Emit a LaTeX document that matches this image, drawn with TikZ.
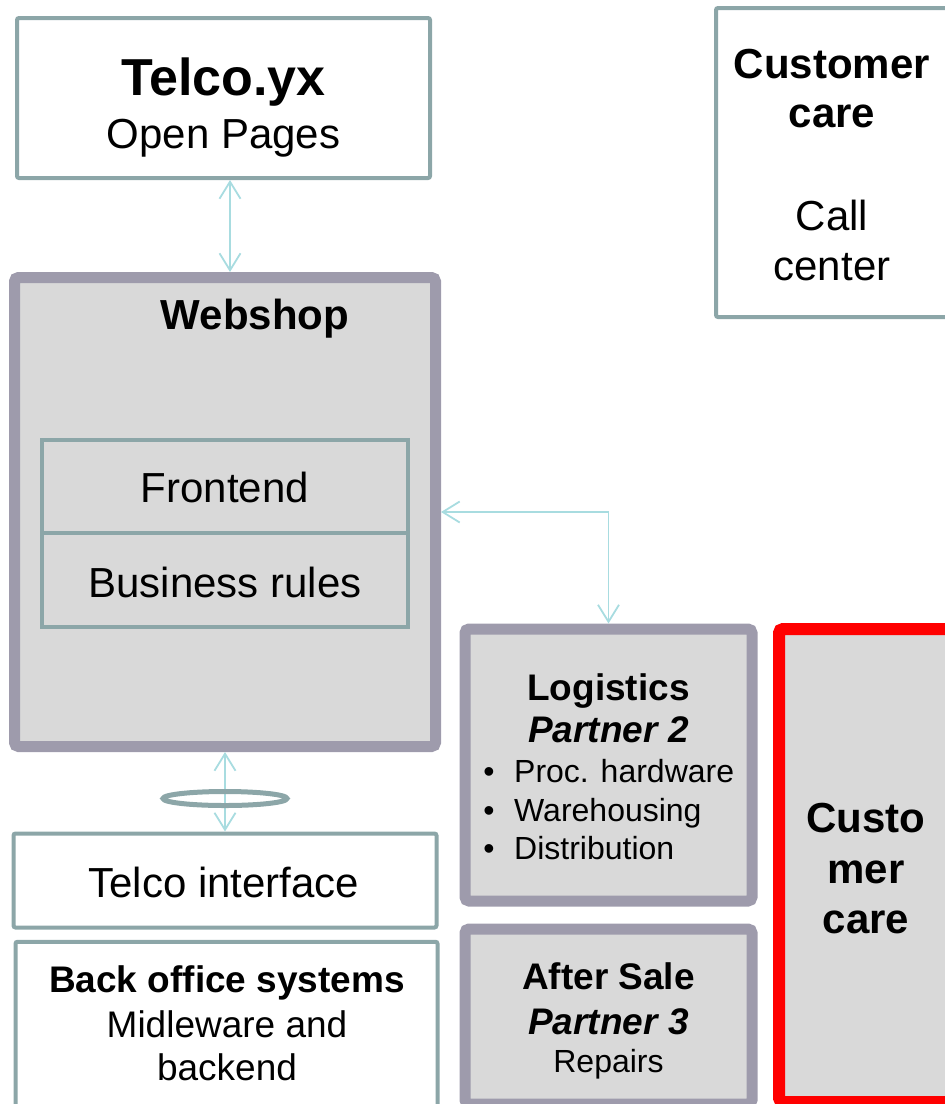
\documentclass[tikz,border=0pt]{standalone}
\usepackage{fontspec}
\setmainfont{Liberation Sans}
\usetikzlibrary{arrows.meta}
\usetikzlibrary{shapes.geometric}
\definecolor{tealline}{HTML}{8CA6A8}
\definecolor{mauveline}{HTML}{9E9BAC}
\definecolor{boxfill}{HTML}{D9D9D9}
\definecolor{linkcol}{HTML}{A8DCE0}
\newcommand{\txtsize}[1]{\fontsize{#1}{#1}\selectfont}
\tikzset{
  sysbox/.style={draw=tealline,line width=4pt,fill=white,inner sep=0pt,rounded corners=2pt},
  partbox/.style={draw=mauveline,line width=11pt,fill=boxfill,inner sep=0pt,rounded corners=4pt},
  link/.style={draw=linkcol,line width=1.8pt,{Straight Barb[length=17pt,width=21pt]}-{Straight Barb[length=17pt,width=21pt]}},
  txt/.style={anchor=base,inner sep=0pt},
}

\begin{document}
\begin{tikzpicture}[x=1pt,y=-1pt]
  \useasboundingbox (0,0) rectangle (945,1104);
  \clip (0,0) rectangle (945,1104);
  % boxes
  \node[sysbox,minimum width=413pt,minimum height=160pt] (telco) at (223.5,98) {};
  \node[partbox,minimum width=421pt,minimum height=469pt] (web) at (225,512) {};
  \node[sysbox,fill=boxfill,rounded corners=0pt,minimum width=366pt,minimum height=93pt] (front) at (225,486.5) {};
  \node[sysbox,fill=boxfill,rounded corners=0pt,minimum width=366pt,minimum height=94pt] (rules) at (225,580) {};
  \node[sysbox,minimum width=244pt,minimum height=309pt] (care) at (838,162.5) {};
  \node[partbox,minimum width=287pt,minimum height=272pt] (logi) at (608.5,765) {};
  \node[partbox,minimum width=287pt,minimum height=175pt] (after) at (608.5,1016.5) {};
  \node[partbox,draw=red,line width=12pt,minimum width=181pt,minimum height=473pt] (custo) at (869.5,865.5) {};
  \node[sysbox,minimum width=423pt,minimum height=94pt] (iface) at (225,880.5) {};
  \node[sysbox,minimum width=422pt,minimum height=178pt] (back) at (226.5,1030.75) {};
  % texts
  \node[txt,font=\txtsize{52}\bfseries] (telcoA) at (223.5,95) {Telco.yx};
  \node[txt,font=\txtsize{42}] (telcoB) at (223.5,148) {Open Pages};
  \node[txt,font=\txtsize{42}\bfseries] (webA) at (255,329) {Webshop};
  \node[txt,font=\txtsize{42}] (frontA) at (225,502) {Frontend};
  \node[txt,font=\txtsize{42}] (rulesA) at (225,597) {Business rules};
  \node[txt,font=\txtsize{42}\bfseries] (careA) at (832,78) {Customer};
  \node[txt,font=\txtsize{42}\bfseries] (careB) at (832,127) {care};
  \node[txt,font=\txtsize{42}] (careC) at (832,230) {Call};
  \node[txt,font=\txtsize{42}] (careD) at (832,280) {center};
  \node[txt,font=\txtsize{37}\bfseries] (logiA) at (608.5,700) {Logistics};
  \node[txt,font=\txtsize{37}\bfseries\itshape] (logiB) at (608.5,742) {Partner 2};
  \foreach \item/\yy [count=\i] in {Proc. hardware/782,Warehousing/821,Distribution/859}{
    \node[txt,font=\txtsize{32}] (dot\i) at (489,\yy) {•};
    \node[txt,anchor=base west,font=\txtsize{32}] (item\i) at (514,\yy) {\item};
  }
  \node[txt,font=\txtsize{37}\bfseries] (afterA) at (608.5,989) {After Sale};
  \node[txt,font=\txtsize{37}\bfseries\itshape] (afterB) at (608.5,1034) {Partner 3};
  \node[txt,font=\txtsize{32}] (afterC) at (608.5,1072) {Repairs};
  \node[txt,font=\txtsize{42}\bfseries] (custoA) at (866,832) {Custo};
  \node[txt,font=\txtsize{42}\bfseries] (custoB) at (866,883) {mer};
  \node[txt,font=\txtsize{42}\bfseries] (custoC) at (866,933) {care};
  \node[txt,font=\txtsize{42}] (ifaceA) at (224,897) {Telco interface};
  \node[txt,font=\txtsize{37}\bfseries] (backA) at (227,992) {Back office systems};
  \node[txt,font=\txtsize{37}] (backB) at (227,1037) {Midleware and};
  \node[txt,font=\txtsize{37}] (backC) at (227,1080) {backend};
  % links
  \draw[link] ([xshift=5pt]web.north) -- ([xshift=5pt]web.north |- telco.south);
  \draw[link] (web.east) -| (logi.north);
  \draw[link] (web.south) -- (iface.north);
  \node[draw=tealline,line width=5pt,ellipse,inner sep=0pt,minimum width=124pt,minimum height=14pt] (ring) at (225,798.5) {};
\end{tikzpicture}
\end{document}
